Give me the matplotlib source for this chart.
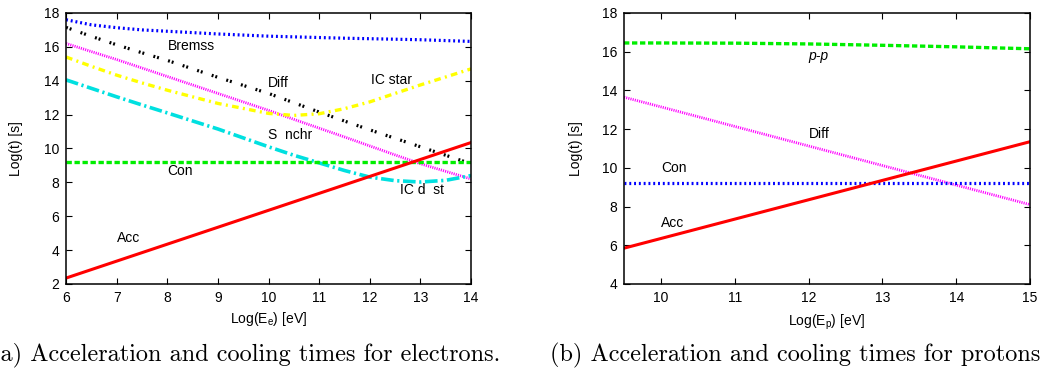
import matplotlib
matplotlib.use("Agg")
import matplotlib.pyplot as plt
import numpy as np

plt.rcParams['font.family'] = ['Liberation Sans', 'DejaVu Sans']

# ---- electrons (panel a) ----
e_x = [6, 6.5, 7, 7.5, 8, 9, 10, 10.5, 11, 11.5, 12, 12.5, 13, 13.5, 14]
e_bremss = [17.6, 17.3, 17.13, 17.0, 16.92, 16.76, 16.63, 16.59, 16.55, 16.51, 16.48, 16.45, 16.42, 16.37, 16.32]
e_diff = [17.15, 16.62, 16.12, 15.65, 15.2, 14.2, 13.25, 12.7, 12.15, 11.62, 11.1, 10.6, 10.1, 9.6, 9.1]
e_synchr = [16.2, 15.72, 15.25, 14.75, 14.25, 13.25, 12.25, 11.72, 11.2, 10.68, 10.15, 9.62, 9.1, 8.65, 8.2]
e_icstar = [15.4, 14.85, 14.33, 13.87, 13.44, 12.66, 12.07, 11.95, 12.05, 12.35, 12.75, 13.25, 13.75, 14.22, 14.7]
e_icdust = [14.05, 13.55, 13.05, 12.57, 12.1, 11.15, 10.1, 9.6, 9.15, 8.7, 8.31, 8.1, 8.02, 8.12, 8.4]
e_con = [9.2] * len(e_x)
e_acc = [2.35, 2.85, 3.35, 3.85, 4.35, 5.35, 6.35, 6.85, 7.35, 7.85, 8.35, 8.85, 9.35, 9.85, 10.35]

# ---- protons (panel b) ----
p_x = [9.5, 10, 11, 12, 13, 14, 15]
p_pp = [16.45, 16.45, 16.44, 16.4, 16.33, 16.25, 16.15]
p_diff = [13.65, 13.15, 12.14, 11.13, 10.12, 9.11, 8.1]
p_con = [9.2] * len(p_x)
p_acc = [5.85, 6.35, 7.35, 8.35, 9.35, 10.35, 11.35]

fig = plt.figure(figsize=(10.4, 3.78), dpi=100)
ax1 = fig.add_axes([0.0635, 0.2487, 0.3894, 0.717])
ax2 = fig.add_axes([0.6, 0.2487, 0.3904, 0.717])

def estilo(ax):
    ax.tick_params(direction='in', length=4.5, width=0.8, top=True, right=True,
                   labelsize=10, pad=5)
    for s in ax.spines.values():
        s.set_linewidth(1.1)

# panel a
ax1.plot(e_x, e_bremss, color='#0000ff', lw=2.3, ls=(0, (0.6, 0.9)))
ax1.plot(e_x, e_diff, color='black', lw=2.3, ls=(0, (0.6, 0.6, 0.6, 3.0)))
ax1.plot(e_x, e_synchr, color='#ff00ff', lw=2.0, ls=(0, (0.4, 0.4)))
ax1.plot(e_x, e_icstar, color='#ffff00', lw=2.4, ls=(0, (2.0, 1.3, 0.6, 1.3)))
ax1.plot(e_x, e_icdust, color='#00e0e0', lw=2.6, ls=(0, (3.5, 1.0, 0.6, 1.0)))
ax1.plot(e_x, e_con, color='#00ee00', lw=2.4, ls=(0, (1.6, 0.8)))
ax1.plot(e_x, e_acc, color='#ff0000', lw=2.2)
ax1.set_xlim(6, 14)
ax1.set_ylim(2, 18)
ax1.set_xticks(range(6, 15))
ax1.set_yticks(range(2, 19, 2))
estilo(ax1)
ax1.set_xlabel('Log(E$_\\mathregular{e}$) [eV]', fontsize=10)
ax1.set_ylabel('Log(t) [s]', fontsize=10)
ax1.xaxis.set_label_coords(0.5, -0.096)
ax1.yaxis.set_label_coords(-0.106, 0.5)

for txt, x, y in [('Bremss', 8.48, 16.05), ('Diff', 10.2, 13.86), ('IC star', 12.42, 14.04),
                  ('S  nchr', 10.43, 10.78), ('Con', 8.25, 8.65), ('IC d  st', 13.03, 7.53),
                  ('Acc', 7.23, 4.69)]:
    ax1.text(x, y, txt, fontsize=10, ha='center', va='center')

# panel b
ax2.plot(p_x, p_pp, color='#00ee00', lw=2.4, ls=(0, (1.6, 0.8)))
ax2.plot(p_x, p_diff, color='#ff00ff', lw=2.0, ls=(0, (0.4, 0.4)))
ax2.plot(p_x, p_con, color='#0000ff', lw=2.3, ls=(0, (0.6, 0.9)))
ax2.plot(p_x, p_acc, color='#ff0000', lw=2.2)
ax2.set_xlim(9.5, 15)
ax2.set_ylim(4, 18)
ax2.set_xticks(range(10, 16))
ax2.set_yticks(range(4, 19, 2))
estilo(ax2)
ax2.set_xlabel('Log(E$_\\mathregular{p}$) [eV]', fontsize=10)
ax2.set_ylabel('Log(t) [s]', fontsize=10)
ax2.xaxis.set_label_coords(0.5, -0.105)
ax2.yaxis.set_label_coords(-0.101, 0.5)

ax2.text(12.14, 15.8, 'p-p', fontsize=10, ha='center', va='center', style='italic')
ax2.text(12.14, 11.73, 'Diff', fontsize=10, ha='center', va='center')
ax2.text(10.18, 9.98, 'Con', fontsize=10, ha='center', va='center')
ax2.text(10.16, 7.14, 'Acc', fontsize=10, ha='center', va='center')

# captions
fig.text(-0.009, 0.061, '(a) Acceleration and cooling times for electrons.',
         fontsize=17.5, fontname='cmr10', ha='left', va='center')
fig.text(0.529, 0.061, '(b) Acceleration and cooling times for protons.',
         fontsize=17.5, fontname='cmr10', ha='left', va='center')

fig.savefig('out.png', dpi=100)
